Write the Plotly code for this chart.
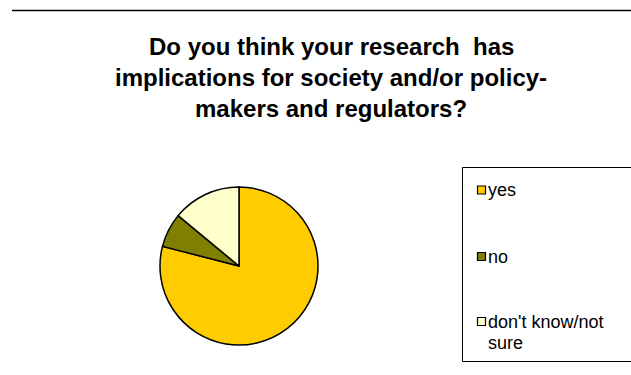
import plotly.graph_objects as go

W, H = 631, 375

labels = ["yes", "no", "don't know/not sure"]
legend_lines = [["yes"], ["no"], ["don't know/not", "sure"]]
values = [79, 7, 14]
colors = ["#FFCC00", "#7F7F00", "#FFFFCC"]
title_lines = [
    "Do you think your research  has",
    "implications for society and/or policy-",
    "makers and regulators?",
]


def px(x):
    return x / W


def py(y):
    return 1 - y / H


cx, cy, r = 239, 266, 79

fig = go.Figure(
    go.Pie(
        labels=labels,
        values=values,
        sort=False,
        direction="clockwise",
        rotation=0,
        marker=dict(colors=colors, line=dict(color="black", width=1.5)),
        textinfo="none",
        hoverinfo="label+percent",
        showlegend=False,
        domain=dict(x=[px(cx - r), px(cx + r)], y=[py(cy + r), py(cy - r)]),
    )
)

shapes = []
annotations = []

# top rule
shapes.append(dict(type="line", xref="paper", yref="paper",
                   x0=px(12), x1=px(640), y0=py(10.5), y1=py(10.5),
                   line=dict(color="black", width=1.5)))

# title lines
for i, t in enumerate(title_lines):
    annotations.append(dict(text=t, xref="paper", yref="paper",
                            x=px(331), y=py(46 + 31 * i),
                            xanchor="center", yanchor="middle", showarrow=False,
                            font=dict(family="Liberation Sans, Arial", size=24,
                                      color="black", weight="bold")))

# legend box
shapes.append(dict(type="rect", xref="paper", yref="paper",
                   x0=px(462.5), x1=px(640), y0=py(361.5), y1=py(167.5),
                   line=dict(color="black", width=1), fillcolor="rgba(0,0,0,0)"))

item_y = [190, 256.5, 321.5]
for i, lines in enumerate(legend_lines):
    yc = item_y[i]
    shapes.append(dict(type="rect", xref="paper", yref="paper",
                       x0=px(477.5), x1=px(485.5), y0=py(yc + 4), y1=py(yc - 4),
                       line=dict(color="black", width=1.2), fillcolor=colors[i]))
    for j, ln in enumerate(lines):
        annotations.append(dict(text=ln, xref="paper", yref="paper",
                                x=px(486), y=py(yc + 21 * j),
                                xanchor="left", yanchor="middle", showarrow=False,
                                font=dict(family="Liberation Sans, Arial", size=18,
                                          color="black")))

fig.update_layout(
    width=W, height=H,
    margin=dict(l=0, r=0, t=0, b=0),
    paper_bgcolor="white", plot_bgcolor="white",
    shapes=shapes, annotations=annotations,
)

fig.write_html("out.html")
